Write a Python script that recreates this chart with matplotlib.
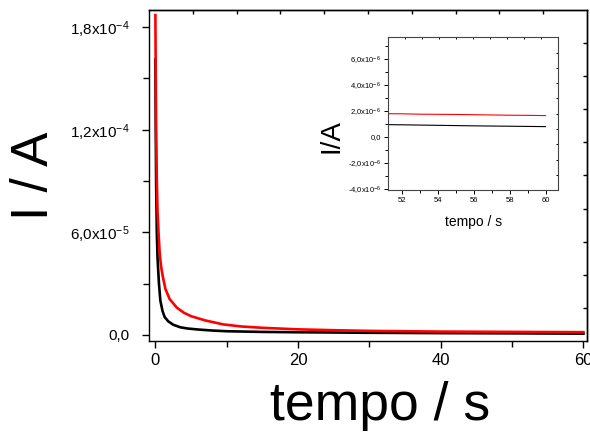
import numpy as np
import matplotlib
matplotlib.use("Agg")
from matplotlib import pyplot as plt
from matplotlib.ticker import FixedLocator, MultipleLocator

plt.rcParams['font.family'] = ['Liberation Sans', 'DejaVu Sans']
plt.rcParams['mathtext.default'] = 'regular'

# current transients (A) vs time (s)
t_black = [0, 0.05, 0.1, 0.2, 0.3, 0.5, 0.7, 1.0, 1.3, 1.8, 2.5, 3.5, 4.5, 6, 8, 10, 15, 20,
           30, 40, 50, 52, 54, 56, 58, 60]
i_black = [16.1, 12.0, 9.0, 6.0, 4.5, 3.0, 2.0, 1.4, 1.05, 0.8, 0.6, 0.45, 0.38, 0.32, 0.26,
           0.22, 0.18, 0.16, 0.13, 0.11, 0.097, 0.094, 0.090, 0.086, 0.083, 0.080]
t_red = [0, 0.05, 0.1, 0.2, 0.3, 0.45, 0.6, 0.8, 1.0, 1.4, 2.0, 3.0, 4.0, 5.0, 7, 9.5, 12, 15,
         20, 25, 30, 40, 50, 51, 52, 53, 54, 55, 56, 57, 58, 59, 60]
i_red = [18.7, 15.0, 12.0, 9.0, 7.2, 5.9, 4.8, 4.0, 3.5, 2.7, 2.1, 1.6, 1.3, 1.1, 0.85, 0.62,
         0.5, 0.42, 0.33, 0.28, 0.24, 0.2, 0.182, 0.180, 0.179, 0.176, 0.175, 0.174, 0.172,
         0.170, 0.168, 0.167, 0.165]
i_black = np.array(i_black) * 1e-5
i_red = np.array(i_red) * 1e-5

main_yticks = [0, 6e-5, 1.2e-4, 1.8e-4]
main_ylabels = ['0,0', r'6,0x10$^{-5}$', r'1,2x10$^{-4}$', r'1,8x10$^{-4}$']
ins_yticks = [-4e-6, -2e-6, 0, 2e-6, 4e-6, 6e-6]
ins_ylabels = [r'-4,0x10$^{-6}$', r'-2,0x10$^{-6}$', '0,0', r'2,0x10$^{-6}$',
               r'4,0x10$^{-6}$', r'6,0x10$^{-6}$']


def frame_ticks(ax, xlim, ylim, size, width):
    # Origin style: top/right axes with ticks at every tenth of the frame
    top = ax.secondary_xaxis('top')
    top.set_xticks(np.linspace(xlim[0], xlim[1], 11)[1:-1])
    top.tick_params(direction='in', length=size, width=width, labeltop=False)
    right = ax.secondary_yaxis('right')
    right.set_yticks(np.linspace(ylim[0], ylim[1], 11)[1:-1])
    right.tick_params(direction='in', length=size, width=width, labelright=False)
    for a in (top, right):
        a.spines[:].set_linewidth(width)


fig = plt.figure(figsize=(5.9, 4.33), dpi=100)
ax = fig.add_axes([0.2525, 0.2125, 0.7424, 0.7645])
ax.plot(t_black, i_black, color='black', lw=1.9)
ax.plot(t_red, i_red, color='red', lw=1.9)
xl, yl = (-0.9, 60.5), (-3.5e-6, 1.9e-4)
ax.set_xlim(xl)
ax.set_ylim(yl)
ax.set_xticks([0, 20, 40, 60])
ax.xaxis.set_minor_locator(FixedLocator([10, 30, 50]))
ax.set_yticks(main_yticks)
ax.set_yticklabels(main_ylabels)
ax.yaxis.set_minor_locator(FixedLocator([3e-5, 9e-5, 1.5e-4]))
ax.tick_params(which='both', direction='out', width=1)
ax.tick_params(which='major', length=5)
ax.tick_params(axis='y', which='major', pad=9, labelsize=11)
ax.tick_params(axis='x', which='major', pad=4, labelsize=12)
ax.tick_params(which='minor', length=4)
for s in ax.spines.values():
    s.set_linewidth(1)
frame_ticks(ax, xl, yl, 3, 1)
ax.set_xlabel('tempo / s', fontsize=38.5, labelpad=9)
ax.xaxis.label.set_x(0.527)
ax.set_ylabel('I / A', fontsize=37)
ax.yaxis.set_label_coords(-0.205, 0.5)

ins = fig.add_axes([0.658, 0.561, 0.288, 0.353])
ins.plot(t_black, i_black, color='black', lw=0.8)
ins.plot(t_red, i_red, color='red', lw=0.8)
xl2, yl2 = (51.26, 60.7), (-4.1e-6, 7.7e-6)
ins.set_xlim(xl2)
ins.set_ylim(yl2)
ins.set_xticks([52, 54, 56, 58, 60])
ins.xaxis.set_minor_locator(MultipleLocator(1))
ins.set_yticks(ins_yticks)
ins.set_yticklabels(ins_ylabels)
ins.yaxis.set_minor_locator(MultipleLocator(1e-6))
ins.tick_params(which='both', direction='out', width=0.7, labelsize=5.5, pad=2)
ins.tick_params(which='major', length=3)
ins.tick_params(which='minor', length=2)
for s in ins.spines.values():
    s.set_linewidth(0.8)
    s.set_color('#444444')
frame_ticks(ins, xl2, yl2, 1.5, 0.7)
ins.set_xlabel('tempo / s', fontsize=10, labelpad=8)
ins.set_ylabel('I/A', fontsize=20)
ins.yaxis.set_label_coords(-0.255, 0.354)

fig.savefig('out.png', dpi=100)
